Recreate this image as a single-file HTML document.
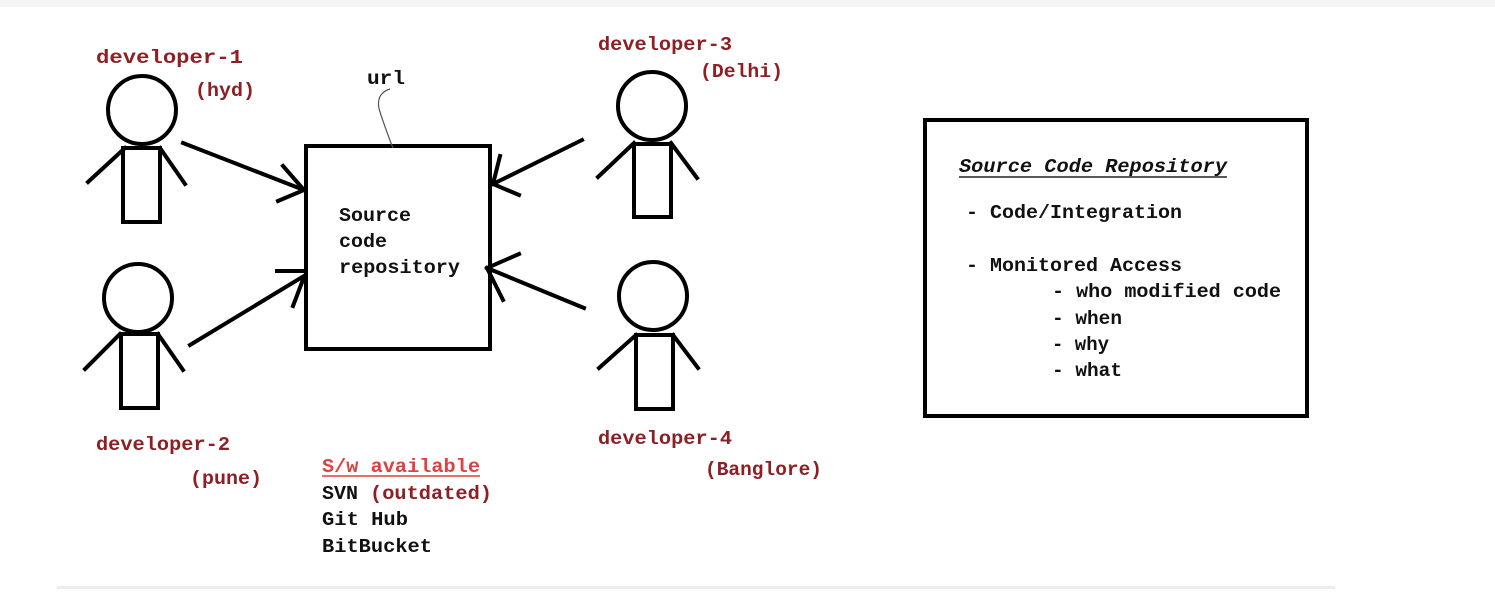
<!DOCTYPE html>
<html><head><meta charset="utf-8"><style>
html,body{margin:0;padding:0;background:#fff;}
svg{display:block;}
text{font-family:"Liberation Mono",monospace;font-weight:bold;font-size:19px;}
.r{fill:#8e1f24;}
.k{fill:#111;}
</style></head><body>
<svg width="1495" height="594" viewBox="0 0 1495 594" xmlns="http://www.w3.org/2000/svg">
<rect x="0" y="0" width="1495" height="7" fill="#f4f4f4"/>
<line x1="57" y1="587.5" x2="1335" y2="587.5" stroke="#ececec" stroke-width="3"/>
<g fill="none" stroke="#000" stroke-width="4" stroke-linecap="square">
<!-- fig1 -->
<circle cx="142" cy="110" r="34"/>
<rect x="123" y="148" width="37" height="74"/>
<line x1="88" y1="182" x2="125" y2="148"/><line x1="160" y1="148" x2="185" y2="184"/>
<!-- fig2 -->
<circle cx="138" cy="298" r="34"/>
<rect x="121" y="334" width="37" height="74"/>
<line x1="85" y1="369" x2="120" y2="334"/><line x1="158" y1="334" x2="183" y2="370"/>
<!-- fig3 -->
<circle cx="652" cy="106" r="34"/>
<rect x="634" y="144" width="37" height="73"/>
<line x1="598" y1="177" x2="634" y2="143"/><line x1="671" y1="143" x2="697" y2="178"/>
<!-- fig4 -->
<circle cx="653" cy="296" r="34"/>
<rect x="636" y="335" width="37" height="74"/>
<line x1="599" y1="368" x2="636" y2="335"/><line x1="673" y1="335" x2="698" y2="368"/>
<!-- central box -->
<rect x="306" y="146" width="184" height="203"/>
<!-- arrows -->
<line x1="183" y1="143" x2="304" y2="190"/><polyline points="283,166 304,190 278,201"/>
<line x1="190" y1="345" x2="304" y2="276"/><line x1="277" y1="271" x2="306" y2="271"/><line x1="293" y1="306" x2="304" y2="277"/>
<line x1="582" y1="140" x2="493" y2="184"/><polyline points="500,156 493,184 519,195"/>
<line x1="584" y1="308" x2="487" y2="268"/><polyline points="519,254 487,268 503,300"/>
<!-- right box -->
<rect x="925" y="120" width="382" height="296"/>
</g>
<path d="M390,89 C380,92 376,100 380,112 C384,124 388,136 393,148" fill="none" stroke="#555" stroke-width="1.2"/>
<text class="k" x="367" y="84" textLength="38" lengthAdjust="spacingAndGlyphs">url</text>
<text class="k" x="339" y="221" textLength="72" lengthAdjust="spacingAndGlyphs">Source</text>
<text class="k" x="339" y="247" textLength="48" lengthAdjust="spacingAndGlyphs">code</text>
<text class="k" x="339" y="273" textLength="121" lengthAdjust="spacingAndGlyphs">repository</text>

<text class="r" x="96" y="63" textLength="147" lengthAdjust="spacingAndGlyphs">developer-1</text>
<text class="r" x="195" y="96" textLength="60" lengthAdjust="spacingAndGlyphs">(hyd)</text>
<text class="r" x="96" y="450" textLength="134" lengthAdjust="spacingAndGlyphs">developer-2</text>
<text class="r" x="190" y="484" textLength="72" lengthAdjust="spacingAndGlyphs">(pune)</text>
<text class="r" x="598" y="50" textLength="134" lengthAdjust="spacingAndGlyphs">developer-3</text>
<text class="r" x="700" y="77" textLength="83" lengthAdjust="spacingAndGlyphs">(Delhi)</text>
<text class="r" x="598" y="444" textLength="134" lengthAdjust="spacingAndGlyphs">developer-4</text>
<text class="r" x="705" y="475" textLength="117" lengthAdjust="spacingAndGlyphs">(Banglore)</text>

<text x="322" y="472" fill="#e0403f" textLength="158" lengthAdjust="spacingAndGlyphs">S/w available</text>
<line x1="322" y1="476" x2="480" y2="476" stroke="#e0403f" stroke-width="1.5"/>
<text class="k" x="322" y="499" textLength="36" lengthAdjust="spacingAndGlyphs">SVN</text>
<text class="r" x="370" y="499" textLength="122" lengthAdjust="spacingAndGlyphs">(outdated)</text>
<text class="k" x="322" y="525" textLength="86" lengthAdjust="spacingAndGlyphs">Git Hub</text>
<text class="k" x="322" y="552" textLength="110" lengthAdjust="spacingAndGlyphs">BitBucket</text>

<text class="k" x="959" y="172" font-style="italic" textLength="268" lengthAdjust="spacingAndGlyphs">Source Code Repository</text>
<line x1="959" y1="177" x2="1227" y2="177" stroke="#222" stroke-width="1.5"/>
<text class="k" x="966" y="218" textLength="216" lengthAdjust="spacingAndGlyphs">- Code/Integration</text>
<text class="k" x="966" y="271" textLength="216" lengthAdjust="spacingAndGlyphs">- Monitored Access</text>
<text class="k" x="1052" y="297" textLength="229" lengthAdjust="spacingAndGlyphs">- who modified code</text>
<text class="k" x="1052" y="324" textLength="70" lengthAdjust="spacingAndGlyphs">- when</text>
<text class="k" x="1052" y="350" textLength="57" lengthAdjust="spacingAndGlyphs">- why</text>
<text class="k" x="1052" y="376" textLength="70" lengthAdjust="spacingAndGlyphs">- what</text>
</svg>
</body></html>
